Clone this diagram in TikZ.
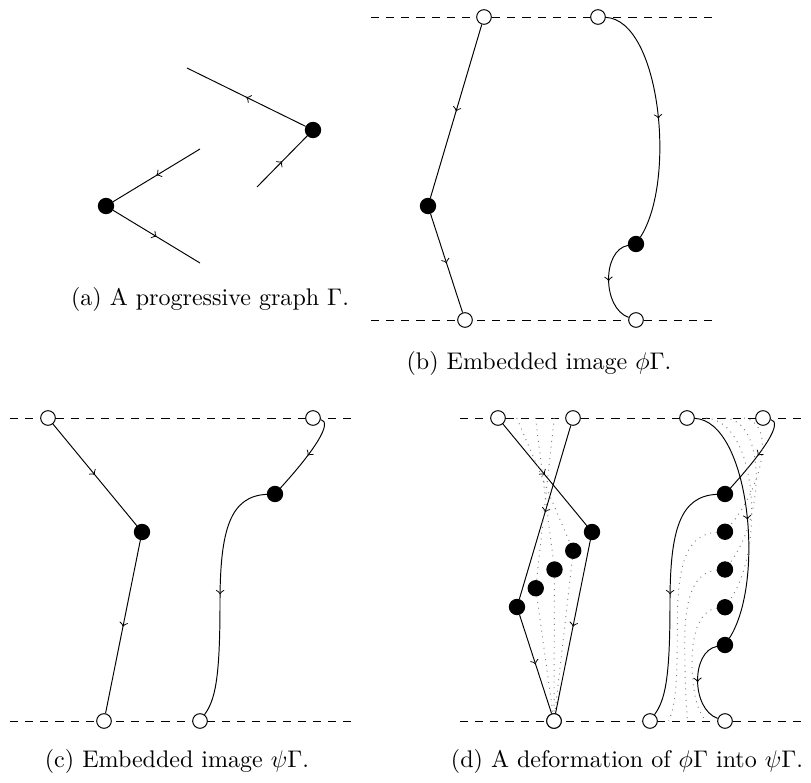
\documentclass[tikz,border=0pt]{standalone}
\usetikzlibrary{calc,decorations.markings}
\newcommand\phigraph[1]{%
  \node[wdot] (#1pt1) at (573,418) {};
  \node[bdot] (#1pv1) at (517,607) {};
  \node[wdot] (#1pb1) at (554,721) {};
  \node[wdot] (#1pt2) at (687,418) {};
  \node[bdot] (#1pv2) at (725,645) {};
  \node[wdot] (#1pb2) at (725,721) {};
  \draw[midarrow] (#1pt1) -- (#1pv1);
  \draw[midarrow] (#1pv1) -- (#1pb1);
  \draw[midarrow] (#1pt2) .. controls (749,421) and (766,581) .. (#1pv2);
  \draw[midarrow] (#1pv2) .. controls (691,651) and (691,709) .. (#1pb2);
}
\newcommand\psigraph[1]{%
  \node[wdot] (#1qt1) at (498,418) {};
  \node[bdot] (#1qv1) at (592,532) {};
  \node[wdot] (#1qb1) at (554,721) {};
  \node[wdot] (#1qt2) at (763,418) {};
  \node[bdot] (#1qv2) at (725,494) {};
  \node[wdot] (#1qb2) at (650,721) {};
  \draw[midarrow] (#1qt1) -- (#1qv1);
  \draw[midarrow] (#1qv1) -- (#1qb1);
  \draw[midarrow] (#1qt2) .. controls (783,422) and (765,450) .. (#1qv2);
  \draw[midarrow] (#1qv2) .. controls (680,496) and (670,530) .. (670,603) .. controls (670,680) and (665,700) .. (#1qb2);
}
\newcommand\bounds[1]{%
  \coordinate (#1tl) at (460,418); \coordinate (#1tr) at (802,418);
  \coordinate (#1bl) at (460,721); \coordinate (#1br) at (802,721);
  \draw[bline] (#1tl) -- (#1tr);
  \draw[bline] (#1bl) -- (#1br);
}
\begin{document}
\begin{tikzpicture}[x=0.416pt,y=-0.416pt,
  bdot/.style={circle,fill=black,draw=black,inner sep=0pt,minimum size=6.4pt},
  wdot/.style={circle,fill=white,draw=black,inner sep=0pt,minimum size=6.1pt},
  midarrow/.style={postaction={decorate},decoration={markings,mark=at position 0.5 with {\arrow{>}}}},
  deform/.style={gray,dotted},
  bline/.style={dash pattern=on 3.4pt off 2.9pt},
  captext/.style={anchor=base,inner sep=0pt}]
\useasboundingbox (0,0) rectangle (811,783);

% ---------- (a) ----------
\node[bdot] (v1) at (106,206) {};
\node[bdot] (v2) at (313,130) {};
\coordinate (a1) at (200,149);
\coordinate (a2) at (200,263);
\coordinate (a3) at (257,187);
\coordinate (a4) at (187,68);
\draw[midarrow] (a1) -- (v1);
\draw[midarrow] (v1) -- (a2);
\draw[midarrow] (a3) -- (v2);
\draw[midarrow] (v2) -- (a4);
\node[captext] (capa) at (210,306) {(a) A progressive graph $\Gamma$.};

% ---------- (b) ----------
\begin{scope}[shift={(-89,-401)}]
  \bounds{b}
  \phigraph{b}
\end{scope}
\node[captext] (capb) at (539,370) {(b) Embedded image $\phi\Gamma$.};

% ---------- (c) ----------
\begin{scope}[shift={(-450,0)}]
  \bounds{c}
  \psigraph{c}
\end{scope}
\node[captext] (capc) at (177,768) {(c) Embedded image $\psi\Gamma$.};

% ---------- (d) ----------
\bounds{d}
\coordinate (c1) at (749,421);   \coordinate (d1) at (783,422);
\coordinate (c2) at (766,581);   \coordinate (d2) at (765,450);
\coordinate (c3) at (708,648);   \coordinate (d3) at (680,496);
\coordinate (c4) at (699.5,664); \coordinate (d4) at (670,530);
\coordinate (c5) at (699.5,680.75); \coordinate (d5) at (670,603);
\coordinate (c6) at (699.5,697.5);  \coordinate (d6) at (670,680);
\coordinate (c7) at (708,715);   \coordinate (d7) at (665,700);
\foreach \t/\n in {0.25/1,0.5/2,0.75/3}{
  \coordinate (lt\n) at ($(573,418)!\t!(498,418)$);
  \coordinate (rt\n) at ($(687,418)!\t!(763,418)$);
  \coordinate (rb\n) at ($(725,721)!\t!(650,721)$);
  \node[bdot] (lv\n) at ($(517,607)!\t!(592,532)$) {};
  \node[bdot] (rv\n) at ($(725,645)!\t!(725,494)$) {};
}
\phigraph{d}
\psigraph{d}
\foreach \t/\n in {0.25/1,0.5/2,0.75/3}{
  \draw[deform] (lt\n) -- (lv\n);
  \draw[deform] (lv\n) -- (dpb1);
  \draw[deform] (rt\n) .. controls ($(c1)!\t!(d1)$) and ($(c2)!\t!(d2)$) .. (rv\n);
  \draw[deform] (rv\n) .. controls ($(c3)!\t!(d3)$) and ($(c4)!\t!(d4)$) .. ($(c5)!\t!(d5)$) .. controls ($(c6)!\t!(d6)$) and ($(c7)!\t!(d7)$) .. (rb\n);
}
\node[captext] (capd) at (627,768) {(d) A deformation of $\phi\Gamma$ into $\psi\Gamma$.};
\end{tikzpicture}
\end{document}
